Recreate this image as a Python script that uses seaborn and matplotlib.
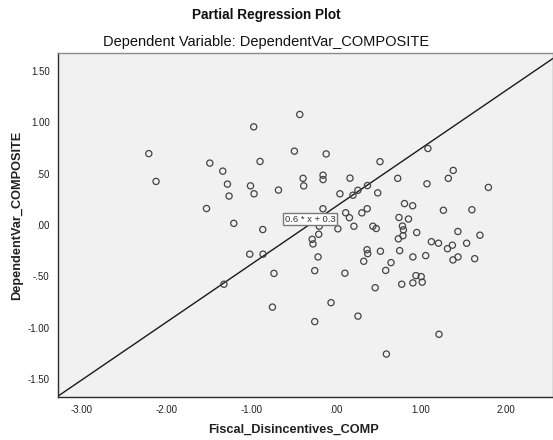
import matplotlib
matplotlib.use("Agg")
import matplotlib.pyplot as plt
import seaborn as sns
import pandas as pd

# ---- data ----
fiscal_x = [
    -2.209, -2.123, -1.489, -1.336, -1.281, -1.262, -1.009, -0.971, -0.967, -0.896,
    -0.679, -0.491, -0.428, -0.389, -0.381, -1.528, -1.206, -0.864, -1.018, -0.861,
    -0.732, -1.322, -0.750, -0.116, 0.519, 1.084, -0.153, -0.153, 0.165, 0.728,
    1.325, 1.383, 1.073, 1.798, 0.046, 0.200, 0.258, 0.371, 0.492, -0.154,
    0.114, 0.158, 0.305, 0.368, 0.808, 0.904, 1.267, 1.603, 0.743, 0.855,
    -0.198, 0.022, 0.211, 0.435, 0.474, 0.784, 0.795, 0.790, 0.736, -0.281,
    -0.272, -0.204, -0.212, -0.251, 0.105, 0.366, 0.374, 0.327, 0.524, 0.751,
    0.649, 0.586, 0.952, 0.907, 1.058, 1.125, 1.209, 1.315, 1.373, 1.438,
    1.541, 1.698, 1.380, 1.439, 1.636, 0.943, 1.005, 0.907, 1.017, 0.775,
    0.462, -0.059, 0.259, -0.251, 1.215, 0.594,
]
dependent_y = [
    0.693, 0.423, 0.601, 0.523, 0.397, 0.281, 0.380, 0.953, 0.303, 0.617,
    0.339, 0.717, 1.073, 0.453, 0.380, 0.160, 0.016, -0.044, -0.283, -0.283,
    -0.470, -0.575, -0.797, 0.690, 0.615, 0.743, 0.484, 0.441, 0.455, 0.453,
    0.453, 0.530, 0.400, 0.365, 0.303, 0.289, 0.337, 0.383, 0.312, 0.158,
    0.119, 0.071, 0.118, 0.158, 0.208, 0.187, 0.143, 0.148, 0.073, 0.058,
    -0.012, -0.037, -0.012, -0.012, -0.034, -0.010, -0.047, -0.104, -0.134, -0.139,
    -0.184, -0.090, -0.310, -0.443, -0.468, -0.240, -0.278, -0.352, -0.255, -0.249,
    -0.365, -0.441, -0.073, -0.310, -0.297, -0.162, -0.177, -0.230, -0.196, -0.063,
    -0.177, -0.099, -0.339, -0.310, -0.327, -0.491, -0.501, -0.562, -0.555, -0.575,
    -0.609, -0.754, -0.885, -0.938, -1.061, -1.253,
]
fit_slope = 0.5615
fit_intercept = 0.180
fit_label = "0.6 * x + 0.3"

x_ticks = [-3, -2, -1, 0, 1, 2]
x_tick_labels = ["-3.00", "-2.00", "-1.00", ".00", "1.00", "2.00"]
y_ticks = [1.5, 1.0, 0.5, 0.0, -0.5, -1.0, -1.5]
y_tick_labels = ["1.50", "1.00", ".50", ".00", "-.50", "-1.00", "-1.50"]

title = "Partial Regression Plot"
subtitle = "Dependent Variable: DependentVar_COMPOSITE"
x_label = "Fiscal_Disincentives_COMP"
y_label = "DependentVar_COMPOSITE"

df = pd.DataFrame({"x": fiscal_x, "y": dependent_y})

# ---- styling ----
sns.set_style("white")
plt.rcParams["font.family"] = ["Liberation Sans", "DejaVu Sans"]

W, H = 553, 440
fig = plt.figure(figsize=(W / 100, H / 100), dpi=100)
fig.patch.set_facecolor("white")
ax = fig.add_axes([58 / W, (H - 397) / H, (553 - 58) / W, (397 - 53) / H])
ax.set_facecolor("#F0F1F0")

sns.scatterplot(data=df, x="x", y="y", ax=ax, s=20, marker="o",
                linewidth=0.9, zorder=3, legend=False)
coll = ax.collections[0]
coll.set_facecolor("none")
coll.set_edgecolor("#444444")

ax.axline((0, fit_intercept), slope=fit_slope, color="#1a1a1a", lw=1.0, zorder=2)

ax.set_xlim(-3.28, 2.56)
ax.set_ylim(-1.67, 1.67)
ax.set_xticks(x_ticks)
ax.set_xticklabels(x_tick_labels)
ax.set_yticks(y_ticks)
ax.set_yticklabels(y_tick_labels)
ax.tick_params(axis="both", direction="out", length=4, width=0.8,
               color="#333333", labelsize=7, labelcolor="#222222", pad=2)
ax.set_xlabel("")
ax.set_ylabel("")

for side in ["left", "bottom"]:
    ax.spines[side].set_color("#2a2a2a")
    ax.spines[side].set_linewidth(1.0)
for side in ["top", "right"]:
    ax.spines[side].set_color("#8a8a8a")
    ax.spines[side].set_linewidth(1.0)

ax.text(-0.304, 0.058, fit_label, fontsize=6.8, ha="center", va="center",
        color="#333333", zorder=4,
        bbox=dict(boxstyle="square,pad=0.18", fc="white", ec="#7a7a7a", lw=1.0))

fig.text(266 / W, 1 - 15 / H, title, ha="center", va="center",
         fontsize=9.8, fontweight="bold", color="#111111")
fig.text(266 / W, 1 - 42 / H, subtitle, ha="center", va="center",
         fontsize=10.5, color="#111111")
fig.text(294 / W, 1 - 430 / H, x_label, ha="center", va="center",
         fontsize=9.2, fontweight="bold", color="#222222")
fig.text(17 / W, 1 - 215 / H, y_label, ha="center", va="center", rotation=90,
         fontsize=9.2, fontweight="bold", color="#222222")

fig.savefig("out.png", dpi=100, facecolor="white")
